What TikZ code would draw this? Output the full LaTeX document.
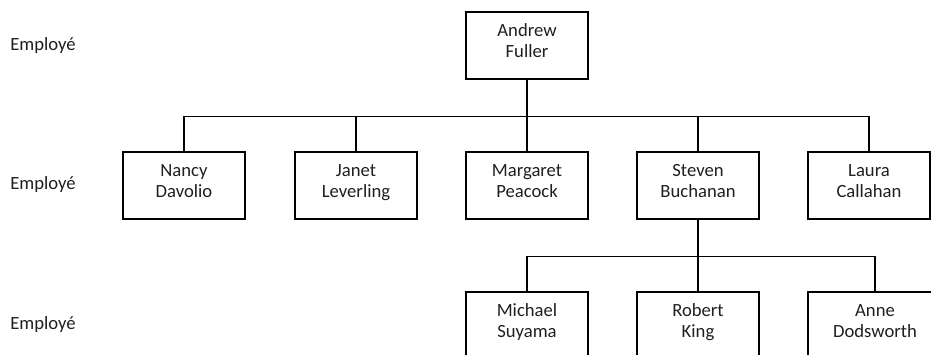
\documentclass[tikz,border=0pt]{standalone}
\usepackage{fontspec}
\setmainfont{Carlito}
% two-line name with a fixed first-line height and extra depth below,
% so that every box sets its text at the same height
\newcommand\pname[2]{\strut#1\\#2\rule[-9.525pt]{0pt}{9.525pt}}
\begin{document}
\begin{tikzpicture}[x=0.75pt,y=-0.75pt,
  person/.style={draw=black, line width=0.95pt, text=black!88,
    minimum width=91.5pt, minimum height=50.25pt, align=center,
    inner sep=2pt, font=\fontsize{14}{15.75}\selectfont},
  level/.style={anchor=base west, inner sep=0pt, text=black!88,
    font=\fontsize{14}{15.75}\selectfont},
  link/.style={draw=black, line width=0.95pt}]
\useasboundingbox (0,0) rectangle (931,354);
\clip (0,0) rectangle (931,354);

% level captions
\node[level] (lv1) at (10,50) {Employé};
\node[level] (lv2) at (10,189) {Employé};
\node[level] (lv3) at (10,329) {Employé};

% top
\node[person] (af) at (527,45.5) {\pname{Andrew}{Fuller}};

% second row
\node[person] (nd) at (184,185.5) {\pname{Nancy}{Davolio}};
\node[person] (jl) at (356,185.5) {\pname{Janet}{Leverling}};
\node[person] (mp) at (527,185.5) {\pname{Margaret}{Peacock}};
\node[person] (sb) at (698,185.5) {\pname{Steven}{Buchanan}};
\node[person] (lc) at (869,185.5) {\pname{Laura}{Callahan}};

% third row
\node[person] (ms) at (527,325.5) {\pname{Michael}{Suyama}};
\node[person] (rk) at (698,325.5) {\pname{Robert}{King}};
\node[person, minimum width=100.5pt] (ad) at (875,325.5) {\pname{Anne}{Dodsworth}};

% connectors
\foreach \c in {nd,jl,mp,sb,lc}
  \draw[link] (af.south) -- ++(0,37) -| (\c.north);
\foreach \c in {ms,rk,ad}
  \draw[link] (sb.south) -- ++(0,37) -| (\c.north);
\end{tikzpicture}
\end{document}
